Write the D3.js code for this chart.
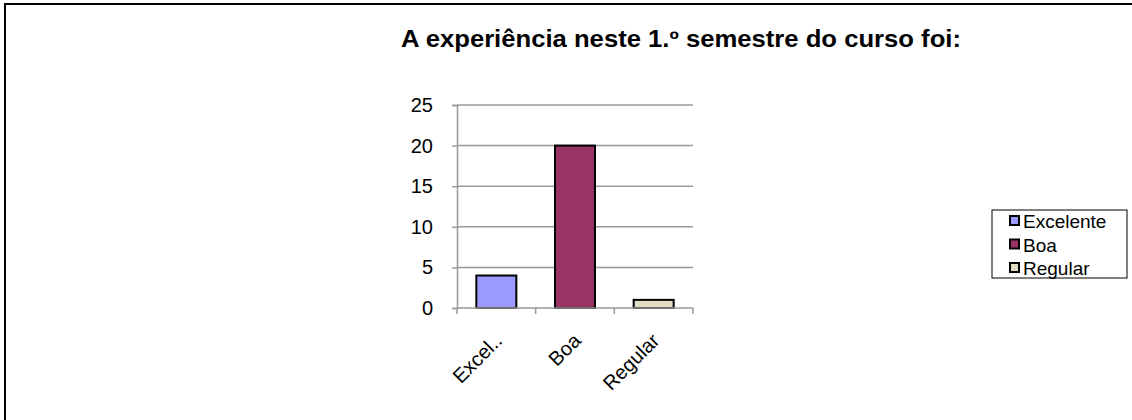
<!DOCTYPE html>
<html>
<head>
<meta charset="utf-8">
<script src="https://cdn.jsdelivr.net/npm/d3@7"></script>
<style>
  body { margin: 0; background: #fff; }
  text { font-family: "Liberation Sans", Arial, sans-serif; fill: #000; }
</style>
</head>
<body>
<svg id="chart" width="1132" height="420"></svg>
<script>
const categories = ["Excelente", "Boa", "Regular"];
const tickLabels = ["Excel..", "Boa", "Regular"];
const values = [4, 20, 1];
const colors = ["#9999ff", "#993366", "#e0dcc4"];
const yTicks = [0, 5, 10, 15, 20, 25];

const $svg = d3.select("#chart");
const plot = { left: 457, right: 693, top: 105, bottom: 308 };

// outer frame (only top/left visible in the picture)
$svg.append("rect")
  .attr("x", 5).attr("y", 4)
  .attr("width", 1140).attr("height", 430)
  .attr("fill", "none").attr("stroke", "#000").attr("stroke-width", 2);

$svg.append("text")
  .attr("x", 401).attr("y", 47)
  .attr("textLength", 560).attr("lengthAdjust", "spacingAndGlyphs")
  .style("font-size", "23px").style("font-weight", "bold")
  .text("A experiência neste 1.º semestre do curso foi:");

const x = d3.scaleBand().domain(categories).range([plot.left, plot.right]).padding(0);
const y = d3.scaleLinear().domain([0, 25]).range([plot.bottom, plot.top]);

// gridlines
$svg.append("g").selectAll("line").data(yTicks.filter(d => d > 0)).join("line")
  .attr("x1", plot.left).attr("x2", plot.right)
  .attr("y1", d => y(d)).attr("y2", d => y(d))
  .attr("stroke", "#999").attr("stroke-width", 1.5);

// y axis
const yAxis = $svg.append("g").attr("transform", `translate(${plot.left},0)`)
  .call(d3.axisLeft(y).tickValues(yTicks).tickSize(5).tickPadding(19));
yAxis.select(".domain").attr("stroke", "#999").attr("stroke-width", 1.5);
yAxis.selectAll(".tick line").attr("stroke", "#999").attr("stroke-width", 1.5);
yAxis.selectAll(".tick text").style("font-size", "20px").attr("fill", "#000")
  .style("font-family", "Liberation Sans, Arial, sans-serif");

// bars
const bw = 40;
$svg.append("g").selectAll("rect").data(categories).join("rect")
  .attr("x", d => x(d) + x.bandwidth() / 2 - bw / 2)
  .attr("width", bw)
  .attr("y", (d, i) => y(values[i]))
  .attr("height", (d, i) => y(0) - y(values[i]))
  .attr("fill", (d, i) => colors[i])
  .attr("stroke", "#000").attr("stroke-width", 2);

// x axis
const xAxis = $svg.append("g").attr("transform", `translate(0,${plot.bottom})`);
xAxis.append("line")
  .attr("x1", plot.left).attr("x2", plot.right)
  .attr("stroke", "#999").attr("stroke-width", 1.5);
const edges = categories.map(d => x(d)).concat([plot.right]);
xAxis.selectAll("line.tk").data(edges).join("line").attr("class", "tk")
  .attr("x1", d => d).attr("x2", d => d).attr("y1", 0).attr("y2", 6)
  .attr("stroke", "#999").attr("stroke-width", 1.5);
xAxis.selectAll("text").data(categories).join("text")
  .attr("transform", d => `translate(${x(d) + x.bandwidth() / 2 + 7},34) rotate(-45)`)
  .attr("text-anchor", "end")
  .style("font-size", "20px")
  .text((d, i) => tickLabels[i]);

// legend
const lg = $svg.append("g").attr("transform", "translate(992,210)");
lg.append("rect").attr("width", 135).attr("height", 68)
  .attr("fill", "#fff").attr("stroke", "#000").attr("stroke-width", 1);
const rows = lg.selectAll("g").data(categories).join("g")
  .attr("transform", (d, i) => `translate(0,${11 + i * 23.5})`);
rows.append("rect").attr("x", 18).attr("y", -5).attr("width", 9).attr("height", 9)
  .attr("fill", (d, i) => colors[i]).attr("stroke", "#000").attr("stroke-width", 2);
rows.append("text").attr("x", 31).attr("y", 7)
  .style("font-size", "19px").text(d => d);
</script>
</body>
</html>
